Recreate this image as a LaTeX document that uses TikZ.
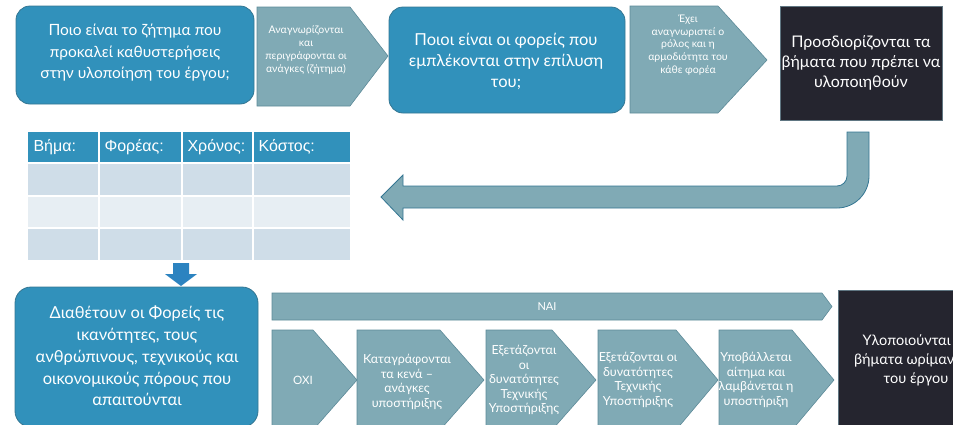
\documentclass[tikz,border=0pt]{standalone}
\usepackage{fontspec}
\setmainfont{Lato}
\newfontfamily\tablefont{Liberation Sans}
\usetikzlibrary{calc,positioning}

\definecolor{boxblue}{RGB}{49,145,187}
\definecolor{boxedge}{RGB}{52,118,146}
\definecolor{chevfill}{RGB}{128,170,181}
\definecolor{chevedge}{RGB}{92,138,152}
\definecolor{darkfill}{RGB}{37,37,47}
\definecolor{darkedge}{RGB}{96,118,130}
\definecolor{rowa}{RGB}{207,221,232}
\definecolor{rowb}{RGB}{231,238,243}
\definecolor{downblue}{RGB}{44,131,192}

\begin{document}
\begin{tikzpicture}[x=1pt,y=-1pt,
    question/.style={fill=boxblue, draw=boxedge, line width=0.8pt, rounded corners=14pt},
    chev/.style={fill=chevfill, draw=chevedge, line width=0.6pt},
    dark/.style={fill=darkfill, draw=darkedge, line width=0.8pt},
    bigtext/.style={text=white, align=center, font=\fontsize{15.5}{21.5}\selectfont},
    smalltext/.style={text=white, align=center, font=\fontsize{10.5}{12.8}\selectfont},
    steptext/.style={text=white, align=center, font=\fontsize{12.5}{14.5}\selectfont},
    headtext/.style={text=white, anchor=west, font=\tablefont\fontsize{16}{18}\selectfont}]

    \useasboundingbox (0,0) rectangle (953,424);
    \clip (0,0) rectangle (953,424);

    % first row
    \draw[question] (16,6) rectangle (254,104);
    \node[bigtext] (Issue) at (135,53) {Ποιο είναι το ζήτημα που\\προκαλεί καθυστερήσεις\\στην υλοποίηση του έργου;};

    \draw[chev] (257,7) -- (350,7) -- (388,56) -- (350,106) -- (257,106) -- cycle;
    \node[smalltext] (Needs) at (306,50) {Αναγνωρίζονται\\και\\περιγράφονται οι\\ανάγκες (ζήτημα)};

    \draw[question] (389,7) rectangle (625,113);
    \node[bigtext, font=\fontsize{16.5}{21}\selectfont] (Actors) at (506,61) {Ποιοι είναι οι φορείς που\\εμπλέκονται στην επίλυση\\του;};

    \draw[chev] (630,6) -- (718,6) -- (767,60) -- (718,113) -- (630,113) -- cycle;
    \node[smalltext] (Roles) at (688,45) {Έχει\\αναγνωριστεί ο\\ρόλος και η\\αρμοδιότητα του\\κάθε φορέα};

    \draw[dark] (780,6) rectangle (942,120);
    \node[bigtext, font=\fontsize{16}{20}\selectfont] (Steps) at (861,63) {Προσδιορίζονται τα\\βήματα που πρέπει να\\υλοποιηθούν};

    % U-turn arrow back to the table
    \draw[chev, line width=0.8pt, draw=boxedge] (403,186) -- (837,186) arc (90:0:10) -- (847,132) -- (869,132) -- (869,176) arc (0:90:32) -- (403,208) -- (403,220) -- (381,197) -- (403,175) -- cycle;

    % table
    \fill[boxblue] (28,132) rectangle (350,163);
    \fill[rowa] (28,163) rectangle (350,196);
    \fill[rowb] (28,196) rectangle (350,228);
    \fill[rowa] (28,228) rectangle (350,260);
    \foreach \x in {99,182,253} {
        \draw[white, line width=1.2pt] (\x,132) -- (\x,260);
    }
    \foreach \y in {163,196,228} {
        \draw[white, line width=1.5pt] (28,\y) -- (350,\y);
    }
    \node[headtext] (Step) at (30,147) {Βήμα:};
    \node[headtext] (Agent) at (101,147) {Φορέας:};
    \node[headtext] (Time) at (184,147) {Χρόνος:};
    \node[headtext] (Cost) at (255,147) {Κόστος:};

    % down arrow
    \fill[downblue] (173,263) -- (189,263) -- (189,274) -- (197,274) -- (181,286) -- (165,274) -- (173,274) -- cycle;

    % second row
    \draw[question, rounded corners=16pt] (15,287) rectangle (258,427);
    \node[bigtext, font=\fontsize{16.5}{21.7}\selectfont] (Means) at (137,356) {Διαθέτουν οι Φορείς τις\\ικανότητες, τους\\ανθρώπινους, τεχνικούς και\\οικονομικούς πόρους που\\απαιτούνται};

    \draw[chev] (272,293) -- (822,293) -- (832,306.5) -- (822,320) -- (272,320) -- cycle;
    \node[steptext, font=\fontsize{11}{13}\selectfont] (Yes) at (547,307) {ΝΑΙ};

    \draw[chev] (272,330) -- (313,330) -- (357,380) -- (313,430) -- (272,430) -- cycle;
    \node[steptext, font=\fontsize{11.5}{13}\selectfont] (No) at (303,380) {ΟΧΙ};

    \draw[chev] (357,330) -- (440,330) -- (484,380) -- (440,430) -- (357,430) -- cycle;
    \node[steptext] (Gaps) at (407,382) {Καταγράφονται\\τα κενά –\\ανάγκες\\υποστήριξης};

    \draw[chev] (486,330) -- (552,330) -- (596,380) -- (552,430) -- (486,430) -- cycle;
    \node[steptext] (CheckA) at (524,380) {Εξετάζονται\\οι\\δυνατότητες\\Τεχνικής\\Υποστήριξης};

    \draw[chev] (598,330) -- (676,330) -- (718,380) -- (676,430) -- (598,430) -- cycle;
    \node[steptext] (CheckB) at (638,380) {Εξετάζονται οι\\δυνατότητες\\Τεχνικής\\Υποστήριξης};

    \draw[chev] (719,330) -- (792,330) -- (834,380) -- (792,430) -- (719,430) -- cycle;
    \node[steptext] (Apply) at (756,380) {Υποβάλλεται\\αίτημα και\\λαμβάνεται η\\υποστήριξη};

    \draw[dark] (838,290) rectangle (970,440);
    \node[bigtext, font=\fontsize{14.5}{19}\selectfont] (Mature) at (916,360) {Υλοποιούνται τα\\βήματα ωρίμανσης\\του έργου};
\end{tikzpicture}
\end{document}
